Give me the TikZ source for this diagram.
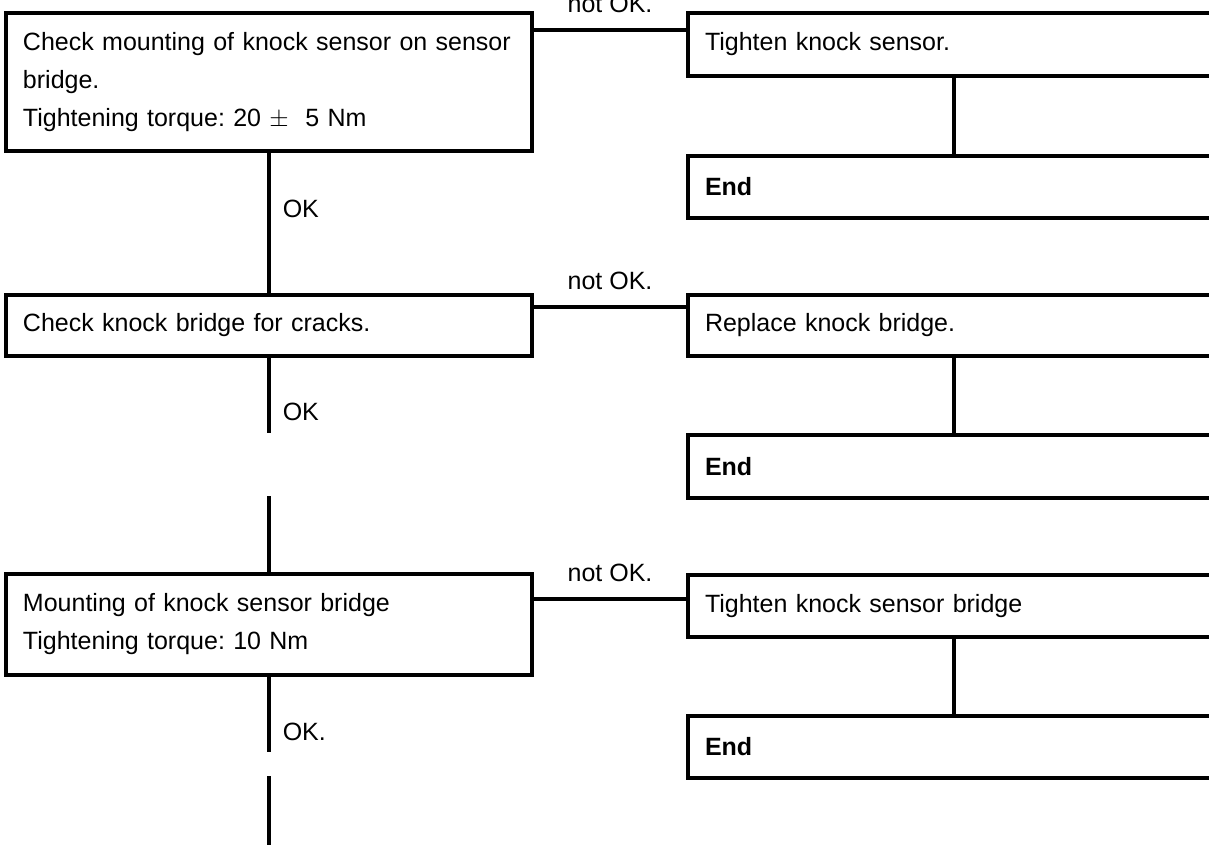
\documentclass[tikz,border=0pt]{standalone}
\usepackage{fontspec}
\setmainfont{Liberation Sans}
\usepackage{tikz}
\usetikzlibrary{positioning}
\frenchspacing

\begin{document}
\begin{tikzpicture}[x=1pt, y=-1pt, font=\fontsize{25}{38}\selectfont,
  lbox/.style={draw, line width=3.5pt, anchor=north west, outer sep=0pt, minimum width=526pt, text width=492pt, inner xsep=17pt, inner ysep=0pt, align=left},
  rbox/.style={draw, line width=3.5pt, anchor=north west, outer sep=0pt, minimum width=560pt, text width=526pt, inner xsep=17pt, inner ysep=0pt, align=left},
  wire/.style={line width=3.5pt},
  nok/.style={midway, above=16pt, inner sep=0pt},
  ok/.style={right=12pt, inner sep=0pt}]
\clip (0,0) rectangle (1209,845);
% left column: checks
\node[lbox, minimum height=138pt] (chkmount) at (6,13) {Check mounting of knock sensor on sensor bridge.\\Tightening torque: 20 $\pm$\ \ 5 Nm};
\node[lbox, minimum height=61pt] (chkcrack) at (6,295) {Check knock bridge for cracks.};
\node[lbox, minimum height=101pt] (mountbr) at (6,574) {Mounting of knock sensor bridge\\Tightening torque: 10 Nm};
% right column: repairs
\node[rbox, minimum height=63pt] (tighten) at (688,13) {Tighten knock sensor.};
\node[rbox, minimum height=62pt] (end1) at (688,156) {\textbf{End}};
\node[rbox, minimum height=61pt] (replace) at (688,295) {Replace knock bridge.};
\node[rbox, minimum height=63pt] (end2) at (688,435) {\textbf{End}};
\node[rbox, minimum height=62pt] (tightbr) at (688,575) {Tighten knock sensor bridge};
\node[rbox, minimum height=62pt] (end3) at (688,716) {\textbf{End}};
% branch points
\path (chkmount.north east) ++(0,17) coordinate (br1);
\path (chkcrack.north east) ++(0,12) coordinate (br2);
\path (mountbr.north east) ++(0,25) coordinate (br3);
\path (chkcrack.south) ++(0,77) coordinate (gap1a);
\path (mountbr.north) ++(0,-78) coordinate (gap1b);
\path (mountbr.south) ++(0,77) coordinate (gap2a);
\path (mountbr.south) ++(0,101) coordinate (gap2b);
\path (gap2b) ++(0,100) coordinate (gap2c);
% not OK branches
\draw[wire] (br1) -- (br1 -| tighten.west) node[nok] {not OK.};
\draw[wire] (br2) -- (br2 -| replace.west) node[nok] {not OK.};
\draw[wire] (br3) -- (br3 -| tightbr.west) node[nok] {not OK.};
% OK path
\draw[wire] (chkmount.south) -- (chkcrack.north) node[ok, pos=0.4] {OK};
\draw[wire] (chkcrack.south) -- (gap1a) node[ok, pos=0.73] {OK};
\draw[wire] (gap1b) -- (mountbr.north);
\draw[wire] (mountbr.south) -- (gap2a) node[ok, pos=0.74] {OK.};
\draw[wire] (gap2b) -- (gap2c);
% repair to end
\draw[wire] ([xshift=266pt]tighten.south west) -- ([xshift=266pt]end1.north west);
\draw[wire] ([xshift=266pt]replace.south west) -- ([xshift=266pt]end2.north west);
\draw[wire] ([xshift=266pt]tightbr.south west) -- ([xshift=266pt]end3.north west);
\end{tikzpicture}
\end{document}
